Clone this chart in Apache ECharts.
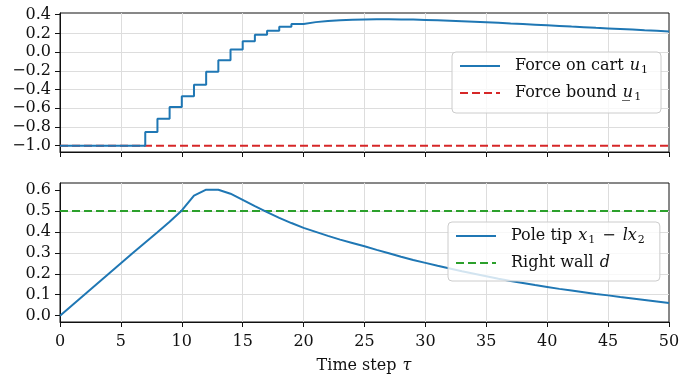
<!DOCTYPE html>
<html>
<head>
<meta charset="utf-8">
<script src="https://cdn.jsdelivr.net/npm/echarts@6/dist/echarts.min.js"></script>
<style>
  html, body { margin: 0; background: #fff; }
  #chartRoot { width: 694px; height: 375px; }
</style>
</head>
<body>
<div id="chartRoot"></div>
<script>
// time steps tau
const timeSteps = [
  0, 1, 2, 3, 4, 5, 6, 7, 8, 9, 10, 11, 12, 13, 14, 15, 16, 17, 18, 19, 20,
  21, 22, 23, 24, 25, 26, 27, 28, 29, 30, 31, 32, 33, 34, 35, 36, 37, 38, 39,
  40, 41, 42, 43, 44, 45, 46, 47, 48, 49, 50,
];
// force on cart u1 (held until next step)
const forceOnCart = [
  -1.0, -1.0, -1.0, -1.0, -1.0, -1.0, -1.0, -0.854, -0.711, -0.586, -0.471,
  -0.35, -0.211, -0.086, 0.027, 0.115, 0.186, 0.229, 0.271, 0.3, 0.32,
  0.332, 0.341, 0.346, 0.349, 0.35, 0.35, 0.349, 0.347, 0.344, 0.34,
  0.335, 0.33, 0.325, 0.319, 0.313, 0.306, 0.3, 0.293, 0.286, 0.279,
  0.272, 0.266, 0.259, 0.253, 0.247, 0.24, 0.233, 0.227, 0.221, 0.215,
];
const boundSteps = [0, 50];
const forceBound = [-1.0, -1.0];
// pole tip x1 - l x2
const poleTip = [
  0.0, 0.05, 0.1, 0.15, 0.2, 0.25, 0.3, 0.349, 0.398, 0.448, 0.502,
  0.573, 0.601, 0.601, 0.582, 0.553, 0.523, 0.494, 0.467, 0.442, 0.419,
  0.4, 0.381, 0.363, 0.347, 0.331, 0.314, 0.298, 0.281, 0.266, 0.252,
  0.238, 0.225, 0.212, 0.2, 0.188, 0.176, 0.166, 0.156, 0.146, 0.137,
  0.128, 0.12, 0.112, 0.104, 0.097, 0.089, 0.082, 0.075, 0.068, 0.061,
];
const rightWall = [0.5, 0.5];

const forceTicks = [-1.0, -0.8, -0.6, -0.4, -0.2, 0.0, 0.2, 0.4];
const poleTicks = [0.0, 0.1, 0.2, 0.3, 0.4, 0.5, 0.6];

const FONT = "DejaVu Serif";
const INK = "#111";

const pairs = (xs, ys) => xs.map((x, i) => [x, ys[i]]);
const fmt = (v) => (Math.abs(v) < 1e-9 ? "0.0" : v.toFixed(1).replace("-", "\u2212"));

const rich = {
  r: { fontFamily: FONT, fontSize: 16, color: INK, lineHeight: 20 },
  i: { fontFamily: FONT, fontSize: 16, color: INK, fontStyle: "italic", lineHeight: 20, padding: [0, 1, 0, 1] },
  m: { fontFamily: FONT, fontSize: 16, color: INK, lineHeight: 20, padding: [0, 6, 0, 6] },
  s: { fontFamily: FONT, fontSize: 11, color: INK, lineHeight: 12, verticalAlign: "bottom", padding: [0, 1, 0, 0] },
};
const legendLabels = {
  "Force on cart u1": "{r|Force on cart }{i|u}{s|1}",
  "Force bound u1": "{r|Force bound }{i|u\u0332}{s|1}",
  "Pole tip x1 - lx2": "{r|Pole tip }{i|x}{s|1}{m|\u2212}{i|lx}{s|2}",
  "Right wall d": "{r|Right wall }{i|d}",
};

function xAxisFor(gridIndex, labels) {
  return {
    type: "value",
    gridIndex,
    min: 0,
    max: 50,
    interval: 5,
    axisLine: { show: true, onZero: false, lineStyle: { color: INK, width: 1 } },
    axisTick: { show: true, length: 5, lineStyle: { color: INK, width: 1 } },
    axisLabel: {
      show: labels,
      margin: 12,
      fontFamily: FONT,
      fontSize: 16,
      color: INK,
    },
    splitLine: {
      show: true,
      showMinLine: false,
      showMaxLine: false,
      lineStyle: { color: "#dddddd", width: 1 },
    },
  };
}

function yAxisFor(gridIndex, min, max, ticks) {
  return {
    type: "value",
    gridIndex,
    min,
    max,
    splitNumber: 7,
    axisLine: { show: true, onZero: false, lineStyle: { color: INK, width: 1 } },
    axisTick: {
      show: true,
      length: 5,
      customValues: ticks,
      lineStyle: { color: INK, width: 1 },
    },
    axisLabel: {
      margin: 9,
      customValues: ticks,
      fontFamily: FONT,
      fontSize: 16,
      color: INK,
      formatter: fmt,
    },
    splitLine: {
      show: true,
      showMinLine: false,
      showMaxLine: false,
      lineStyle: { color: "#dddddd", width: 1 },
    },
  };
}

function legendFor(names, left, top, padRight) {
  return {
    data: names,
    orient: "vertical",
    left,
    top,
    itemWidth: 40,
    itemHeight: 14,
    itemGap: 9,
    padding: [6, padRight, 10, 7],
    backgroundColor: "rgba(255,255,255,0.8)",
    borderColor: "#cccccc",
    borderWidth: 1,
    borderRadius: 4,
    itemStyle: { opacity: 0 },
    textStyle: { padding: [0, 0, 0, 10], rich },
    formatter: (name) => legendLabels[name],
  };
}

const chart = echarts.init(document.getElementById("chartRoot"));
chart.setOption({
  animation: false,
  backgroundColor: "#fff",
  grid: [
    { left: 60, right: 25, top: 13, height: 139, show: true, borderColor: INK, borderWidth: 1 },
    { left: 60, right: 25, top: 183, height: 139, show: true, borderColor: INK, borderWidth: 1 },
  ],
  xAxis: [
    xAxisFor(0, false),
    Object.assign(xAxisFor(1, true), {
      name: "{r|Time step }{i|\u03c4}",
      nameLocation: "middle",
      nameGap: 34,
      nameTextStyle: { rich },
    }),
  ],
  yAxis: [
    yAxisFor(0, -1.0675, 0.4175, forceTicks),
    yAxisFor(1, -0.03, 0.633, poleTicks),
  ],
  legend: [
    legendFor(["Force on cart u1", "Force bound u1"], 452, 52, 12),
    legendFor(["Pole tip x1 - lx2", "Right wall d"], 448, 222, 14),
  ],
  series: [
    {
      name: "Force on cart u1",
      type: "line",
      xAxisIndex: 0,
      yAxisIndex: 0,
      step: "end",
      symbol: "none",
      z: 3,
      data: pairs(timeSteps, forceOnCart),
      lineStyle: { color: "#1f77b4", width: 2 },
      itemStyle: { color: "#1f77b4" },
    },
    {
      name: "Force bound u1",
      type: "line",
      xAxisIndex: 0,
      yAxisIndex: 0,
      symbol: "none",
      z: 2,
      data: pairs(boundSteps, forceBound),
      lineStyle: { color: "#d62728", width: 2, type: [8, 4] },
      itemStyle: { color: "#d62728" },
    },
    {
      name: "Pole tip x1 - lx2",
      type: "line",
      xAxisIndex: 1,
      yAxisIndex: 1,
      symbol: "none",
      z: 3,
      data: pairs(timeSteps, poleTip),
      lineStyle: { color: "#1f77b4", width: 2 },
      itemStyle: { color: "#1f77b4" },
    },
    {
      name: "Right wall d",
      type: "line",
      xAxisIndex: 1,
      yAxisIndex: 1,
      symbol: "none",
      z: 2,
      data: pairs(boundSteps, rightWall),
      lineStyle: { color: "#2ca02c", width: 2, type: [8, 4] },
      itemStyle: { color: "#2ca02c" },
    },
  ],
});
</script>
</body>
</html>
